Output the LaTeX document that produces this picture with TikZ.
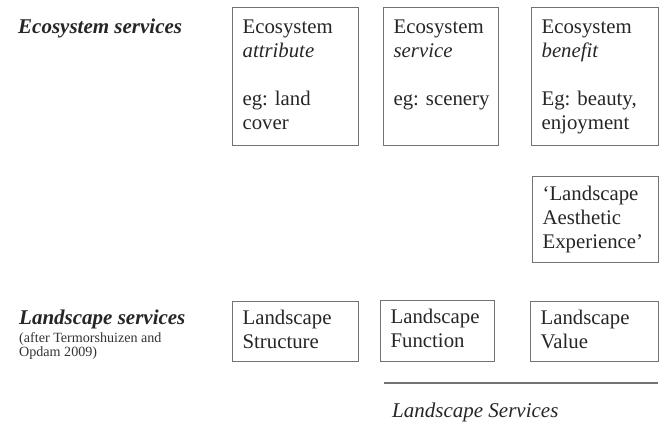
\documentclass[tikz,border=0pt]{standalone}
\usepackage{fontspec}
\setmainfont{Liberation Serif}
\frenchspacing

\tikzset{
    box/.style n args={2}{draw=black!55, line width=1.2pt, text=black!85,
        anchor=north west, align=left, inner xsep=10pt, inner ysep=0pt,
        text width=#1, minimum height=#2,
        font=\fontsize{20.8}{24}\selectfont,
        execute at begin node=\strut, execute at end node=\strut},
    head/.style={anchor=base west, inner sep=0pt, text=black!85,
        font=\fontsize{21}{24}\selectfont\bfseries\itshape},
    note/.style={anchor=north west, align=left, inner sep=0pt, text=black!80,
        font=\fontsize{14.1}{14}\selectfont},
}

\begin{document}
\begin{tikzpicture}[x=1pt, y=1pt]
    \useasboundingbox (0,0) rectangle (664,-434);

    % Row headings
    \node[head] (ecohead) at (18,-33) {Ecosystem services};
    \node[head] (landhead) at (19,-324) {Landscape services};
    \node[note] (source) at (19,-332.5) {(after Termorshuizen and\\Opdam 2009)};

    % Ecosystem row
    \node[box={106pt}{138pt}] (attribute) at (232,-7)
        {Ecosystem\\\textit{attribute}\\[24pt]eg: land\\cover};
    \node[box={99pt}{138pt}, inner xsep=8pt] (service) at (383,-7)
        {\hspace*{2pt}Ecosystem\\\hspace*{2pt}\textit{service}\\[24pt]\hspace*{2pt}eg: scenery\\\mbox{}};
    \node[box={107pt}{138pt}] (benefit) at (531,-7)
        {Ecosystem\\\textit{benefit}\\[24pt]Eg: beauty,\\enjoyment};
    \node[box={106pt}{86pt}] (aesthetic) at (532,-176)
        {‘Landscape\\Aesthetic\\Experience’};

    % Landscape row
    \node[box={106pt}{60pt}] (structure) at (232,-301) {Landscape\\Structure};
    \node[box={94pt}{61pt}] (function) at (380,-300) {Landscape\\Function};
    \node[box={108pt}{60pt}] (value) at (530,-301) {Landscape\\Value};

    % Bracket line and caption
    \coordinate (ruleL) at (384,-383);
    \coordinate (ruleR) at (658,-383);
    \draw[black!55, line width=2.5pt] (ruleL) -- (ruleR);
    \node[anchor=base west, inner sep=0pt, text=black!85,
        font=\fontsize{21}{24}\selectfont\itshape] (services) at (392,-417)
        {Landscape Services};
\end{tikzpicture}
\end{document}
